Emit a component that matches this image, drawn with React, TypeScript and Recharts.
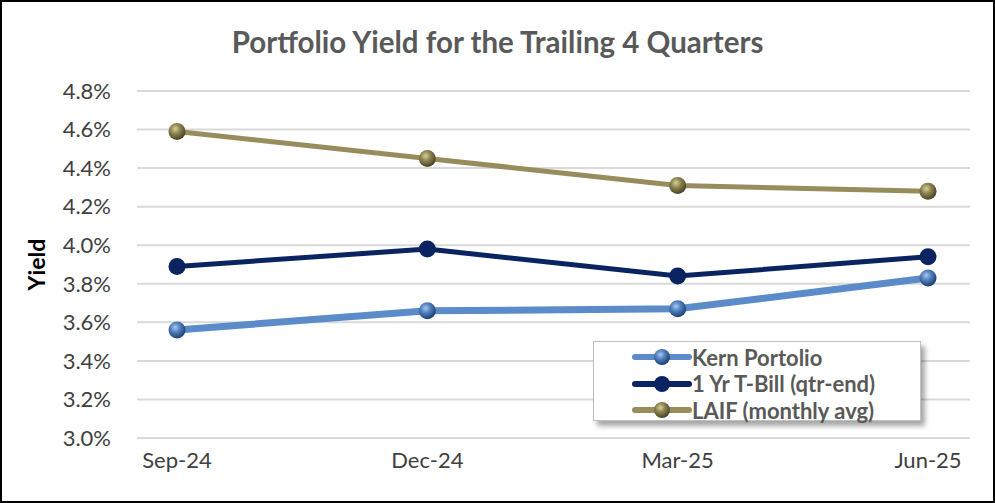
import { LineChart, Line, CartesianGrid, XAxis, YAxis, Legend } from "recharts";

const quarters = ["Sep-24", "Dec-24", "Mar-25", "Jun-25"];
const kernYield = [3.56, 3.66, 3.67, 3.83];
const tbillYield = [3.89, 3.98, 3.84, 3.94];
const laifYield = [4.59, 4.45, 4.31, 4.28];
const yTicks = [3.0, 3.2, 3.4, 3.6, 3.8, 4.0, 4.2, 4.4, 4.6, 4.8];

const data = quarters.map((q, i) => ({
  quarter: q,
  kern: kernYield[i],
  tbill: tbillYield[i],
  laif: laifYield[i],
}));

const series = [
  { key: "kern", name: "Kern Portolio", color: "#5B8BC8", width: 7, fill: "url(#ballKern)" },
  { key: "tbill", name: "1 Yr T-Bill (qtr-end)", color: "#0A2462", width: 5, fill: "#0A2462" },
  { key: "laif", name: "LAIF (monthly avg)", color: "#978D5C", width: 5, fill: "url(#ballLaif)" },
];

const FONT = "Lato, 'Open Sans', sans-serif";
const TEXT_GRAY = "#595959";

function makeDot(fill: string) {
  return (props: any) => (
    <circle key={props.key ?? `${props.cx}-${props.cy}`} cx={props.cx} cy={props.cy} r={8.5} fill={fill} />
  );
}

function YieldLabel(props: any) {
  const vb = props.viewBox || {};
  const cx = 36;
  const cy = vb.y + vb.height / 2;
  return (
    <text
      x={cx}
      y={cy}
      transform={`rotate(-90 ${cx} ${cy})`}
      textAnchor="middle"
      dominantBaseline="central"
      fontFamily={FONT}
      fontWeight={700}
      fontSize={23}
      fill="#000"
    >
      Yield
    </text>
  );
}

function LegendBox() {
  return (
    <div
      style={{
        width: 328,
        height: 80,
        background: "#fff",
        border: "1px solid #BFBFBF",
        boxShadow: "4px 5px 5px rgba(0,0,0,0.35)",
        boxSizing: "border-box",
        paddingTop: 2,
      }}
    >
      {series.map((s) => (
        <div key={s.key} style={{ display: "flex", alignItems: "center", height: 26.5, marginLeft: 39 }}>
          <svg width={58} height={20} style={{ overflow: "visible" }}>
            <line x1={2} y1={10} x2={56} y2={10} stroke={s.color} strokeWidth={6} strokeLinecap="round" />
            <circle cx={29} cy={10} r={8} fill={s.fill} />
          </svg>
          <span style={{ fontFamily: FONT, fontWeight: 700, fontSize: 22, color: TEXT_GRAY, marginLeft: 1 }}>
            {s.name}
          </span>
        </div>
      ))}
    </div>
  );
}

export default function App() {
  return (
    <div style={{ position: "absolute", left: 0, top: 0, width: 995, height: 503, background: "#fff" }}>
      <svg width={0} height={0} style={{ position: "absolute" }}>
        <defs>
          <radialGradient id="ballKern" cx="40%" cy="35%" r="65%">
            <stop offset="0%" stopColor="#A9C6EE" />
            <stop offset="45%" stopColor="#4F7FBF" />
            <stop offset="100%" stopColor="#1F3E6E" />
          </radialGradient>
          <radialGradient id="ballLaif" cx="40%" cy="35%" r="65%">
            <stop offset="0%" stopColor="#D8CF9C" />
            <stop offset="45%" stopColor="#8D8350" />
            <stop offset="100%" stopColor="#4A4324" />
          </radialGradient>
        </defs>
      </svg>
      <div
        style={{
          position: "absolute",
          left: 0,
          top: 24,
          width: 995,
          textAlign: "center",
          fontFamily: FONT,
          fontWeight: 700,
          fontSize: 29.5,
          color: TEXT_GRAY,
        }}
      >
        Portfolio Yield for the Trailing 4 Quarters
      </div>
      <LineChart width={995} height={503} data={data} margin={{ top: 91, right: 25, bottom: 0, left: 0 }}>
        <CartesianGrid vertical={false} stroke="#D9D9D9" strokeWidth={2} />
        <XAxis
          dataKey="quarter"
          axisLine={false}
          tickLine={false}
          tickSize={0}
          tickMargin={14}
          height={65}
          padding={{ left: 40, right: 42 }}
          tick={{ fill: "#404040", fontSize: 22, fontFamily: FONT }}
        />
        <YAxis
          domain={[3.0, 4.8]}
          ticks={yTicks}
          width={137}
          axisLine={false}
          tickLine={false}
          tickSize={0}
          tickMargin={26}
          tickFormatter={(v: number) => `${v.toFixed(1)}%`}
          tick={{ fill: "#404040", fontSize: 22, fontFamily: FONT }}
          label={{ content: YieldLabel }}
        />
        <Legend
          layout="vertical"
          align="center"
          verticalAlign="middle"
          wrapperStyle={{ left: 593, top: 341, width: 328 }}
          content={() => <LegendBox />}
        />
        {series.map((s) => (
          <Line
            key={s.key}
            type="linear"
            dataKey={s.key}
            name={s.name}
            stroke={s.color}
            strokeWidth={s.width}
            dot={makeDot(s.fill)}
            activeDot={false}
            isAnimationActive={false}
          />
        ))}
      </LineChart>
      <div
        style={{
          position: "absolute",
          left: 0,
          top: 0,
          width: 995,
          height: 503,
          border: "2px solid #000",
          boxSizing: "border-box",
          pointerEvents: "none",
        }}
      />
    </div>
  );
}
